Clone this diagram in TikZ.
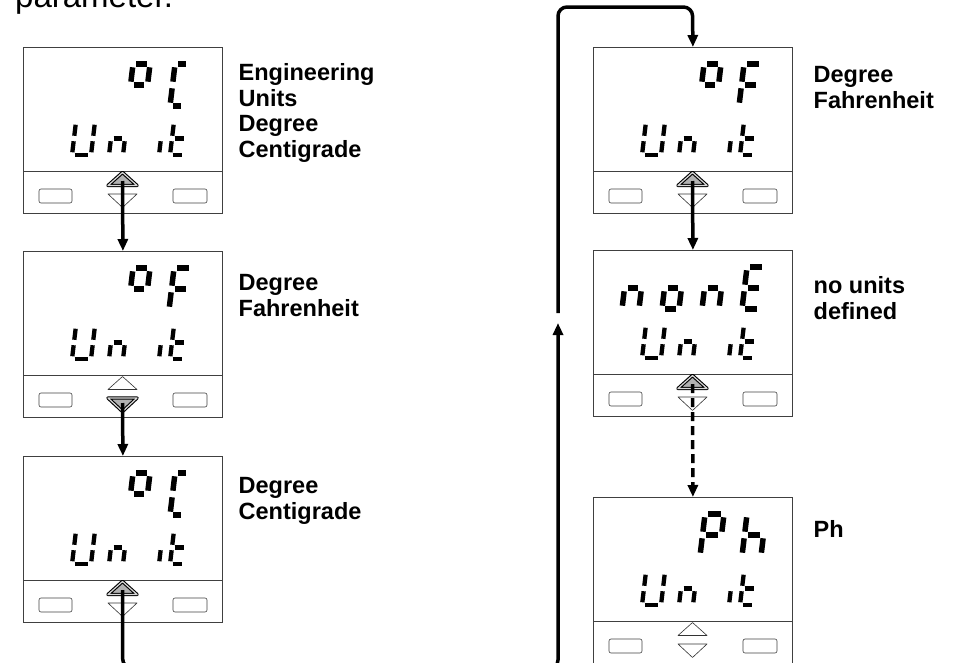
\documentclass[tikz,border=0pt]{standalone}
\usepackage{fontspec}
\setmainfont{Liberation Sans}
\usepackage{tikz}
\usetikzlibrary{arrows.meta}

% one slanted seven-segment character: x, y (bottom left), width, height, segments
\newcommand{\lcdchar}[5]{%
  \begin{scope}[shift={(#1,#2)},xslant=0.12]
    \coordinate (a1) at (0,-#4);   \coordinate (a2) at (#3,-#4);
    \coordinate (b1) at (#3,-#4);  \coordinate (b2) at (#3,-#4/2);
    \coordinate (c1) at (#3,-#4/2);\coordinate (c2) at (#3,0);
    \coordinate (d1) at (0,0);     \coordinate (d2) at (#3,0);
    \coordinate (e1) at (0,-#4/2); \coordinate (e2) at (0,0);
    \coordinate (f1) at (0,-#4);   \coordinate (f2) at (0,-#4/2);
    \coordinate (g1) at (0,-#4/2); \coordinate (g2) at (#3,-#4/2);
    \foreach \sg in {#5}
      \draw[lcdseg,line width=0.13pt*#4,shorten <=0.065pt*#4+0.6pt,shorten >=0.065pt*#4+0.6pt] (\sg1) -- (\sg2);
  \end{scope}}

% display frame with its two keys: name, north west corner, up key, down key
\newcommand{\lcdpanel}[4]{%
  \node[lcdbox,anchor=north west] (#1) at (#2) {};
  \begin{scope}[shift={(#2)}]
    \draw[lcdline] (0,124) -- (199,124);
    \draw[lcdbtn] (16,142) rectangle (49,156);
    \draw[lcdbtn] (150,142) rectangle (184,156);
    \draw[#3] (85,138.5) -- (99.5,125.5) -- (114,138.5) -- cycle;
    \draw[#4] (85,147) -- (99.5,160.5) -- (114,147) -- cycle;
    \coordinate (#1up) at (99.5,134);
    \coordinate (#1dn) at (99.5,152);
  \end{scope}}

\begin{document}
\begin{tikzpicture}[x=1pt,y=-1pt]
  \tikzset{lcdbox/.style={draw=black!75,line width=0.8pt,minimum width=199pt,minimum height=166pt,inner sep=0pt}}
  \tikzset{lcdline/.style={draw=black!75,line width=0.8pt}}
  \tikzset{lcdbtn/.style={draw=black!75,line width=0.6pt,rounded corners=2pt}}
  \tikzset{keyoff/.style={draw=black!80,line width=0.6pt,fill=white,line join=round}}
  \tikzset{keyon/.style={draw=black,line width=1.1pt,double=gray!30,double distance=1.2pt,fill=gray!60,line join=round}}
  \tikzset{lcdseg/.style={draw=black,line cap=butt}}
  \tikzset{flow/.style={draw=black,line width=3.5pt,-{Triangle[length=12pt,width=10pt]}}}
  \tikzset{flowline/.style={draw=black,line width=3.5pt}}
  \tikzset{desc/.style={font=\fontsize{23.5}{25.5}\selectfont\bfseries,align=left,anchor=base west,inner sep=0pt}}
  \useasboundingbox (0,0) rectangle (967,662);
  \clip (0,0) rectangle (967,662);

  \node[font=\fontsize{33}{33}\selectfont,anchor=base west,inner sep=0pt] (intro) at (15,7) {parameter.};

  % left column
  \lcdpanel{pA1}{23,47}{keyon}{keyoff}
  \lcdpanel{pA2}{23,251}{keyoff}{keyon}
  \lcdpanel{pA3}{23,456}{keyon}{keyoff}
  % right column
  \lcdpanel{pB1}{593,47}{keyon}{keyoff}
  \lcdpanel{pB2}{593,250}{keyon}{keyoff}
  \lcdpanel{pB3}{593,497}{keyoff}{keyoff}

  % lower line of every display
  \foreach \px/\py in {23/47,23/251,23/456,593/47,593/250,593/497} {
    \begin{scope}[shift={(\px,\py)}]
      \lcdchar{49}{108}{19}{33}{b,c,d,e,f}
      \lcdchar{86}{108}{14}{33}{c,e,g}
      \lcdchar{136}{108}{13}{33}{e}
      \lcdchar{147}{108}{15}{33}{d,e,f,g}
    \end{scope}
  }

  % upper line
  \begin{scope}[shift={(23,47)}]
    \lcdchar{105}{59}{17}{42}{a,b,f,g}
    \lcdchar{147}{59}{14}{42}{a,d,e,f}
  \end{scope}
  \begin{scope}[shift={(23,251)}]
    \lcdchar{105}{59}{17}{42}{a,b,f,g}
    \lcdchar{146}{59}{18}{42}{a,e,f,g}
  \end{scope}
  \begin{scope}[shift={(23,456)}]
    \lcdchar{105}{59}{17}{42}{a,b,f,g}
    \lcdchar{147}{59}{14}{42}{a,d,e,f}
  \end{scope}
  \begin{scope}[shift={(593,47)}]
    \lcdchar{106}{59}{17}{42}{a,b,f,g}
    \lcdchar{146}{59}{18}{42}{a,e,f,g}
  \end{scope}
  \begin{scope}[shift={(593,250)}]
    \lcdchar{29}{59}{17}{42}{c,e,g}
    \lcdchar{69}{59}{17}{42}{c,d,e,g}
    \lcdchar{109}{59}{17}{42}{c,e,g}
    \lcdchar{149}{59}{18}{42}{a,d,e,f,g}
  \end{scope}
  \begin{scope}[shift={(593,497)}]
    \lcdchar{107}{59}{19}{42}{a,b,e,f,g}
    \lcdchar{149}{59}{19}{42}{c,e,f,g}
  \end{scope}

  % labels (anchored on the baseline of their last line)
  \node[desc] (tA1) at (238.5,157) {Engineering\\Units\\Degree\\Centigrade};
  \node[desc] (tA2) at (238.5,316) {Degree\\Fahrenheit};
  \node[desc] (tA3) at (238.5,519) {Degree\\Centigrade};
  \node[desc] (tB1) at (813.5,108) {Degree\\Fahrenheit};
  \node[desc] (tB2) at (813.5,319) {no units\\defined};
  \node[desc] (tB3) at (813.5,537) {Ph};

  % connectors
  \coordinate (exitL) at (122.5,670);
  \coordinate (exitR) at (175,670);
  \coordinate (loopB) at (558,313);
  \coordinate (loopT) at (692.5,7);
  \coordinate (backS) at (535,672);
  \coordinate (backE) at (558,323);
  \draw[flow] (pA1up) -- (pA2.north);
  \draw[flow] (pA2dn) -- (pA3.north);
  \draw[flowline,rounded corners=12pt] (pA3up) -- (exitL) -- (exitR);
  \draw[flow,rounded corners=9pt] (loopB) |- (loopT) -- (pB1.north);
  \draw[flow,rounded corners=12pt] (backS) -| (backE);
  \draw[flow] (pB1up) -- (pB2.north);
  \draw[flow,dash pattern=on 9pt off 5pt] (pB2up) -- (pB3.north);
\end{tikzpicture}
\end{document}
